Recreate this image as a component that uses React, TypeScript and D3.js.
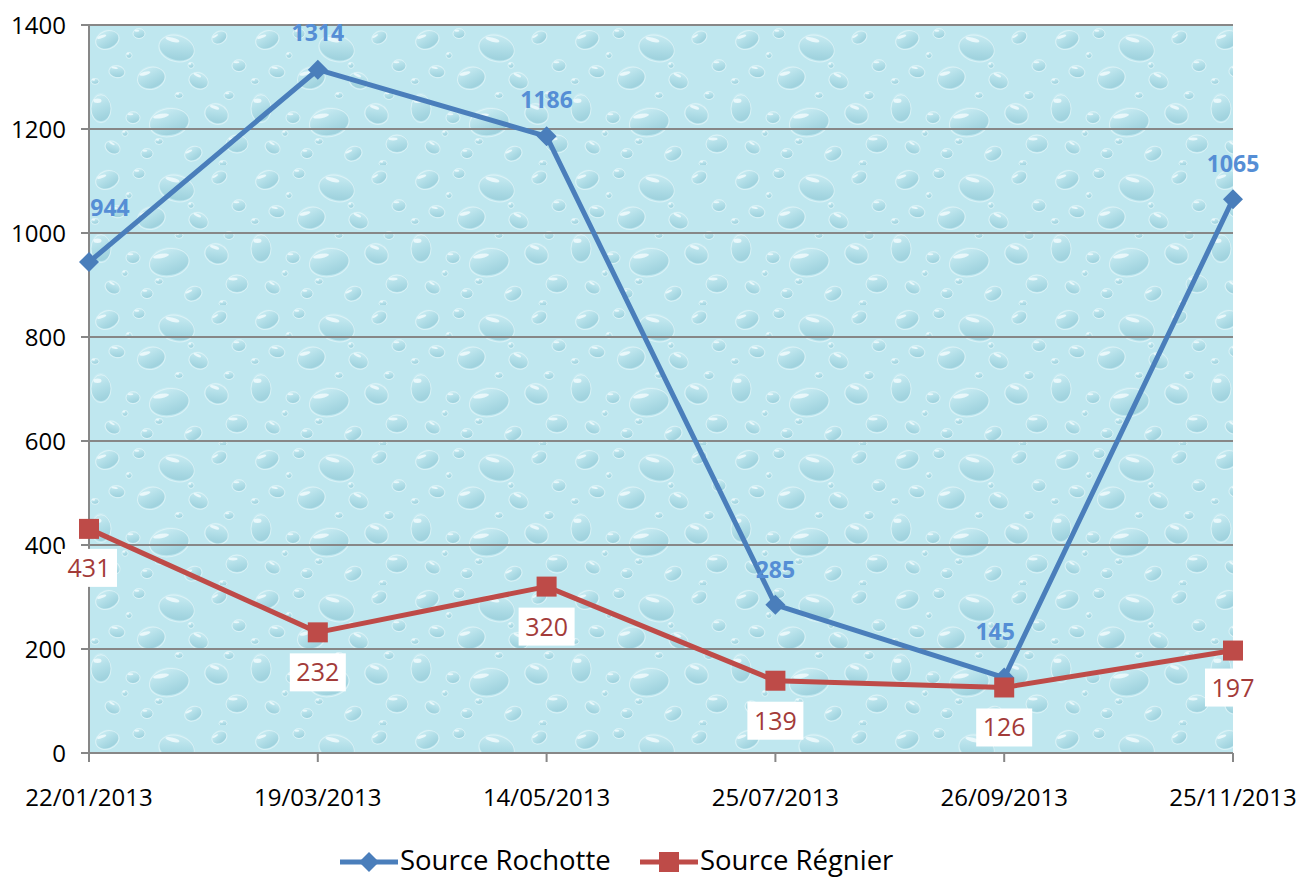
import React from "react";
import * as d3 from "d3";

const categories = ["22/01/2013", "19/03/2013", "14/05/2013", "25/07/2013", "26/09/2013", "25/11/2013"];
const rochotte = [944, 1314, 1186, 285, 145, 1065];
const regnier = [431, 232, 320, 139, 126, 197];
const yTicks = [0, 200, 400, 600, 800, 1000, 1200, 1400];
const seriesNames = ["Source Rochotte", "Source Régnier"];

// label nudges (dx, dy) relative to point
const blueLabelOffsets: [number, number][] = [[21, -46], [0, -29], [0, -28], [0, -27], [-9, -38], [0, -27]];
const redLabelOffsets: [number, number][] = [[0, 39], [0, 40], [0, 40], [0, 40], [0, 40], [0, 37]];

// decorative water-drop texture for the plot background: [cx, cy, rx, ry, rotation]
const drops: [number, number, number, number, number][] = [
  [18, 14, 12, 9, -20], [50, 8, 6, 5, 0], [88, 22, 18, 13, 15], [130, 12, 8, 6, -30],
  [150, 40, 7, 6, 0], [28, 46, 8, 6, 10], [62, 52, 14, 11, -15], [110, 55, 10, 8, 25],
  [12, 82, 10, 14, 0], [44, 92, 7, 6, 0], [80, 96, 20, 14, -10], [128, 88, 12, 10, 20],
  [24, 122, 8, 6, 30], [58, 128, 6, 5, 0], [104, 128, 9, 7, -25], [148, 118, 11, 9, 0],
  [40, 30, 3, 3, 0], [102, 40, 3, 3, 0], [6, 56, 4, 3, 0], [90, 70, 4, 3, 0],
  [140, 70, 5, 4, 0], [70, 116, 4, 3, 0], [134, 138, 4, 3, 0], [36, 108, 3, 3, 0],
];

const W = 1303;
const H = 877;
const left = 89;
const right = 1233;
const top = 25;
const bottom = 753;

export default function App() {
  const x = d3.scalePoint<string>().domain(categories).range([left, right]);
  const y = d3.scaleLinear().domain([0, 1400]).range([bottom, top]);
  const line = d3
    .line<number>()
    .x((_, i) => x(categories[i]) as number)
    .y((d) => y(d));

  const font = "'Open Sans', 'DejaVu Sans', sans-serif";
  const blue = "#4a7ebb";
  const red = "#be4b48";

  const diamond = (cx: number, cy: number, r: number) =>
    `M${cx},${cy - r}L${cx + r},${cy}L${cx},${cy + r}L${cx - r},${cy}Z`;

  return (
    <svg
      width={W}
      height={H}
      style={{ position: "absolute", left: 0, top: 0, background: "#fff" }}
      fontFamily={font}
    >
      <defs>
        <linearGradient id="drop" x1="0" y1="0" x2="0.3" y2="1">
          <stop offset="0%" stopColor="#d6f2f7" />
          <stop offset="60%" stopColor="#acdbe5" />
          <stop offset="100%" stopColor="#93cad7" />
        </linearGradient>
        <pattern id="water" width={160} height={140} patternUnits="userSpaceOnUse" x={left} y={top}>
          <rect width={160} height={140} fill="#bfe7ef" />
          {drops.map(([cx, cy, rx, ry, rot], i) => (
            <g key={i} transform={`translate(${cx},${cy}) rotate(${rot})`}>
              <ellipse cx={0} cy={0} rx={rx} ry={ry} fill="url(#drop)" opacity={0.7} />
              <ellipse cx={0} cy={ry * 0.12} rx={rx} ry={ry} fill="none" stroke="#e6f7fa" strokeWidth={1} opacity={0.7} />
              <ellipse cx={-rx * 0.35} cy={-ry * 0.45} rx={rx * 0.4} ry={Math.max(1, ry * 0.16)} fill="#f6fdfe" opacity={0.75} />
            </g>
          ))}
        </pattern>
      </defs>

      <rect x={left} y={top} width={right - left} height={bottom - top} fill="url(#water)" />

      {/* gridlines */}
      {yTicks.map((t) => (
        <line key={t} x1={left - 8} x2={right} y1={y(t)} y2={y(t)} stroke="#878787" strokeWidth={2} />
      ))}
      {/* y axis */}
      <line x1={left} x2={left} y1={top} y2={bottom} stroke="#878787" strokeWidth={2} />
      {yTicks.map((t) => (
        <text key={t} x={66} y={y(t)} dy="0.36em" textAnchor="end" fontSize={24} fill="#000">
          {t}
        </text>
      ))}

      {/* x axis ticks and labels */}
      {categories.map((c) => (
        <g key={c}>
          <line x1={x(c)} x2={x(c)} y1={bottom} y2={bottom + 9} stroke="#878787" strokeWidth={2} />
          <text x={x(c)} y={806} textAnchor="middle" fontSize={24} fill="#000">
            {c}
          </text>
        </g>
      ))}

      {/* series lines */}
      <path d={line(rochotte) || ""} fill="none" stroke={blue} strokeWidth={5} strokeLinejoin="round" />
      <path d={line(regnier) || ""} fill="none" stroke={red} strokeWidth={5} strokeLinejoin="round" />

      {/* markers */}
      {rochotte.map((v, i) => (
        <path key={"b" + i} d={diamond(x(categories[i]) as number, y(v), 10)} fill={blue} />
      ))}
      {regnier.map((v, i) => (
        <rect key={"r" + i} x={(x(categories[i]) as number) - 10} y={y(v) - 10} width={20} height={20} fill={red} />
      ))}

      {/* blue data labels */}
      {rochotte.map((v, i) => (
        <text
          key={"bl" + i}
          x={(x(categories[i]) as number) + blueLabelOffsets[i][0]}
          y={y(v) + blueLabelOffsets[i][1]}
          textAnchor="middle"
          fontSize={23}
          fontWeight="bold"
          fill="#558ed5"
        >
          {v}
        </text>
      ))}

      {/* red data labels */}
      {regnier.map((v, i) => {
        const cx = (x(categories[i]) as number) + redLabelOffsets[i][0];
        const cy = y(v) + redLabelOffsets[i][1];
        return (
          <g key={"rl" + i}>
            <rect x={cx - 28} y={cy - 19} width={56} height={38} fill="#fff" />
            <text x={cx} y={cy} dy="0.36em" textAnchor="middle" fontSize={25} fill="#a33b39">
              {v}
            </text>
          </g>
        );
      })}

      {/* legend */}
      <g>
        <line x1={340} x2={398} y1={862} y2={862} stroke={blue} strokeWidth={5} />
        <path d={diamond(369, 862, 10)} fill={blue} />
        <text x={400} y={870} fontSize={27.5} fill="#000">
          {seriesNames[0]}
        </text>
        <line x1={640} x2={698} y1={862} y2={862} stroke={red} strokeWidth={5} />
        <rect x={659} y={852} width={20} height={20} fill={red} />
        <text x={700} y={870} fontSize={27.5} fill="#000">
          {seriesNames[1]}
        </text>
      </g>
    </svg>
  );
}
